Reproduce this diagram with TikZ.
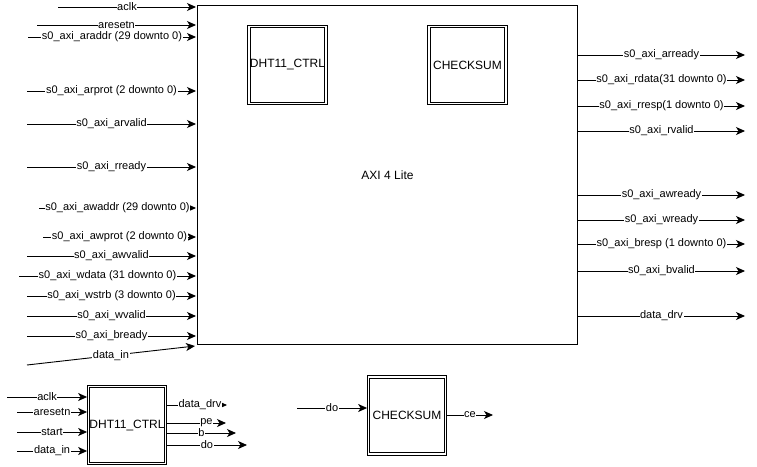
\documentclass[tikz,border=0pt]{standalone}
\usepackage{fontspec}
\setmainfont{Liberation Sans}
\usetikzlibrary{arrows.meta}
\begin{document}
\begin{tikzpicture}[x=1pt,y=-1pt,
  sig/.style={draw=black, line width=0.9pt, -{Stealth[length=9pt,width=8pt,inset=2.5pt]}},
  lbl/.style={fill=white, inner sep=0.6pt, font=\fontsize{11}{13}\selectfont},
  block/.style={draw, line width=0.8pt, double, double distance=1.8pt,
    minimum width=77pt, minimum height=77pt, inner sep=0pt, font=\fontsize{12}{14}\selectfont},
  top/.style={draw, line width=1pt, minimum width=380pt, minimum height=339pt,
    inner sep=0pt, font=\fontsize{12}{14}\selectfont}]
\useasboundingbox (0,0) rectangle (757,466);

% AXI4-Lite wrapper with its two sub-blocks
\node[top] (axi) at (387.5,175) {AXI 4 Lite};
\node[block] (dhtin) at (287.5,65) {DHT11\_CTRL};
\node[block] (chkin) at (467.5,65) {CHECKSUM};

% slave inputs
\foreach \y/\xs/\t [count=\i] in {
  7/58/aclk,
  25/37/aresetn,
  37/28/s0\_axi\_araddr (29 downto 0),
  91/27/s0\_axi\_arprot (2 downto 0),
  124/27/s0\_axi\_arvalid,
  167/27/s0\_axi\_rready,
  208/39/s0\_axi\_awaddr (29 downto 0),
  237/43/s0\_axi\_awprot (2 downto 0),
  256/27/s0\_axi\_awvalid,
  276/19/s0\_axi\_wdata (31 downto 0),
  296/27/s0\_axi\_wstrb (3 downto 0),
  316/27/s0\_axi\_wvalid,
  336/27/s0\_axi\_bready}{
  \coordinate (in\i) at (\xs,\y);
  \draw[sig] (in\i) -- ([xshift=-1pt]in\i -| axi.west) node[lbl,midway] {\t};
}
\coordinate (din) at (27,365);
\draw[sig] (din) -- ([xshift=-2pt,yshift=-1pt]axi.south west) node[lbl,midway] {data\_in};

% slave outputs
\foreach \y/\t [count=\i] in {
  55/s0\_axi\_arready,
  80/s0\_axi\_rdata(31 downto 0),
  106/s0\_axi\_rresp(1 downto 0),
  131/s0\_axi\_rvalid,
  195/s0\_axi\_awready,
  220/s0\_axi\_wready,
  244/s0\_axi\_bresp (1 downto 0),
  271/s0\_axi\_bvalid,
  316/data\_drv}{
  \coordinate (out\i) at (745,\y);
  \draw[sig] (out\i -| axi.east) -- (out\i) node[lbl,midway] {\t};
}

% DHT11 controller
\node[block] (dht) at (127,425) {DHT11\_CTRL};
\foreach \y/\xs/\t [count=\i] in {
  397/7/aclk,
  412/17/aresetn,
  432/17/start,
  451/17/data\_in}{
  \coordinate (din\i) at (\xs,\y);
  \draw[sig] (din\i) -- ([xshift=-1pt]din\i -| dht.west) node[lbl,midway] {\t};
}
\foreach \y/\xe/\p/\t [count=\i] in {
  405/227/0.55/data\_drv,
  423/226/0.67/pe,
  433/236/0.5/b,
  445/247/0.5/do}{
  \coordinate (dout\i) at (\xe,\y);
  \draw[sig] ([xshift=1pt]dout\i -| dht.east) -- (dout\i) node[lbl,pos=\p] {\t};
}

% checksum unit
\node[block] (chk) at (407,415.5) {CHECKSUM};
\coordinate (cin) at (297,408);
\draw[sig] (cin) -- ([xshift=-1pt]cin -| chk.west) node[lbl,midway] {do};
\coordinate (cout) at (493,415);
\draw[sig] ([xshift=1pt]cout -| chk.east) -- (cout) node[lbl,midway] {ce};
\end{tikzpicture}
\end{document}
